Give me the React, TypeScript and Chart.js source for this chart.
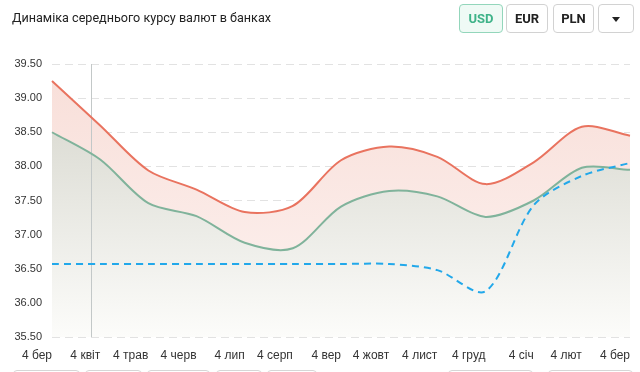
import React, { useEffect, useRef } from 'react';
import { Chart, registerables } from 'chart.js';

Chart.register(...registerables);

const labels = ['4 бер', '4 квіт', '4 трав', '4 черв', '4 лип', '4 серп', '4 вер', '4 жовт', '4 лист', '4 груд', '4 січ', '4 лют', '4 бер'];
const sellRates = [39.25, 38.6, 37.94, 37.66, 37.33, 37.42, 38.09, 38.29, 38.14, 37.74, 38.06, 38.58, 38.45];
const buyRates = [38.5, 38.1, 37.46, 37.27, 36.88, 36.8, 37.41, 37.64, 37.56, 37.26, 37.5, 37.98, 37.95];
const nbuRates = [36.57, 36.57, 36.57, 36.57, 36.57, 36.57, 36.57, 36.57, 36.48, 36.17, 37.43, 37.86, 38.05];
const yMin = 35.5;
const yMax = 39.5;
const yStep = 0.5;
const crosshairIndex = 0.82;
const currencies = ['USD', 'EUR', 'PLN'];

function vGradient(ctx: any, top: string, bottom: string) {
  const chart = ctx.chart;
  const area = chart.chartArea;
  if (!area) return top;
  const g = chart.ctx.createLinearGradient(0, area.top, 0, area.bottom);
  g.addColorStop(0, top);
  g.addColorStop(1, bottom);
  return g;
}

const crosshairPlugin = {
  id: 'crosshair',
  beforeDatasetsDraw(chart: any) {
    const x = chart.scales.x.getPixelForValue(crosshairIndex);
    const { top, bottom } = chart.chartArea;
    const c = chart.ctx;
    c.save();
    c.strokeStyle = '#c3c8c8';
    c.lineWidth = 1;
    c.beginPath();
    c.moveTo(Math.round(x) + 0.5, top);
    c.lineTo(Math.round(x) + 0.5, bottom);
    c.stroke();
    c.restore();
  },
};

function ChartCanvas() {
  const ref = useRef<HTMLCanvasElement>(null);
  useEffect(() => {
    const chart = new Chart(ref.current as HTMLCanvasElement, {
      type: 'line',
      data: {
        labels,
        datasets: [
          {
            data: sellRates,
            borderColor: '#e9735f',
            borderWidth: 2,
            pointRadius: 0,
            tension: 0.3,
            fill: '+1',
            backgroundColor: (ctx: any) => vGradient(ctx, 'rgba(248,222,216,1)', 'rgba(253,243,241,1)'),
            order: 1,
          },
          {
            data: buyRates,
            borderColor: '#80b39b',
            borderWidth: 2,
            pointRadius: 0,
            tension: 0.3,
            fill: 'start',
            backgroundColor: (ctx: any) => vGradient(ctx, 'rgba(211,211,201,1)', 'rgba(252,252,250,1)'),
            order: 2,
          },
          {
            data: nbuRates,
            borderColor: '#22a8ea',
            borderWidth: 2,
            borderDash: [7, 5],
            pointRadius: 0,
            tension: 0.3,
            fill: false,
            order: 0,
          },
        ],
      },
      options: {
        animation: false,
        responsive: false,
        events: [],
        layout: { padding: { top: 64, left: 0, right: 10, bottom: 0 } },
        plugins: {
          legend: { display: false },
          tooltip: { enabled: false },
          filler: { drawTime: 'beforeDatasetsDraw' },
        } as any,
        scales: {
          x: {
            grid: { display: false },
            border: { display: false },
            ticks: {
              align: 'end',
              maxRotation: 0,
              autoSkip: false,
              padding: 3,
              color: '#333',
              font: { family: '"Liberation Sans", Arial, sans-serif', size: 12 },
            },
            afterFit: (s: any) => { s.height = 35; },
          },
          y: {
            min: yMin,
            max: yMax,
            grid: { color: '#e2e2e2', drawTicks: false },
            border: { display: false, dash: [8, 5] },
            ticks: {
              stepSize: yStep,
              padding: 10,
              color: '#333',
              font: { family: '"Liberation Sans", Arial, sans-serif', size: 11 },
              callback: (v: any) => Number(v).toFixed(2),
            },
            afterFit: (s: any) => { s.width = 52; },
          },
        },
      } as any,
      plugins: [crosshairPlugin],
    });
    return () => chart.destroy();
  }, []);
  return <canvas ref={ref} width={640} height={372} style={{ position: 'absolute', left: 0, top: 0, width: 640, height: 372 }} />;
}

const btnBase: React.CSSProperties = {
  position: 'absolute',
  top: 4,
  height: 29,
  boxSizing: 'border-box',
  border: '1px solid #d2d2d2',
  borderRadius: 4,
  background: '#fff',
  fontFamily: 'Roboto, "Liberation Sans", Arial, sans-serif',
  fontWeight: 700,
  fontSize: 13,
  color: '#222',
  display: 'flex',
  alignItems: 'center',
  justifyContent: 'center',
};

const btnLefts = [459, 506, 553];
const btnWidths = [44, 42, 41];
const bottomBoxes = [[13, 80], [85, 142], [147, 210], [216, 262], [267, 317], [448, 533], [548, 633]];

export default function App() {
  return (
    <div style={{ position: 'absolute', left: 0, top: 0, width: 640, height: 372, overflow: 'hidden', background: '#fff' }}>
      <ChartCanvas />
      <div style={{ position: 'absolute', left: 12, top: 10, fontFamily: 'Roboto, "Liberation Sans", Arial, sans-serif', fontSize: 12.6, color: '#222', whiteSpace: 'nowrap' }}>
        Динаміка середнього курсу валют в банках
      </div>
      {currencies.map((c, i) => (
        <div
          key={c}
          style={{
            ...btnBase,
            left: btnLefts[i],
            width: btnWidths[i],
            ...(i === 0 ? { border: '1px solid #93d6bb', background: '#effaf5', color: '#3fb389' } : {}),
          }}
        >
          {c}
        </div>
      ))}
      <div style={{ ...btnBase, left: 598, width: 36 }}>
        <div style={{ width: 0, height: 0, borderLeft: '4px solid transparent', borderRight: '4px solid transparent', borderTop: '5px solid #222', marginTop: 2 }} />
      </div>
      {bottomBoxes.map(([a, b], i) => (
        <div key={i} style={{ position: 'absolute', left: a, top: 370, width: b - a, height: 20, boxSizing: 'border-box', border: '1px solid #d6d6d6', borderRadius: 4 }} />
      ))}
    </div>
  );
}
